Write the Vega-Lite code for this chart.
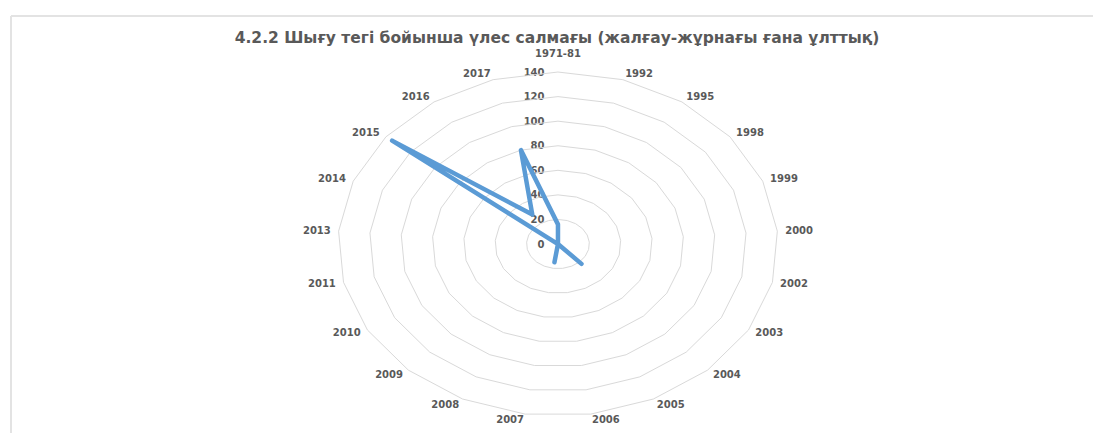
{
  "$schema": "https://vega.github.io/schema/vega-lite/v6.json",
  "width": 1082,
  "height": 417,
  "autosize": "none",
  "padding": {"left": 11, "top": 16, "right": 0, "bottom": 0},
  "background": "white",
  "config": {"view": {"stroke": null}},
  "title": {
    "text": "4.2.2 Шығу тегі бойынша үлес салмағы (жалғау-жұрнағы ғана ұлттық)",
    "font": "DejaVu Sans",
    "fontSize": 15.5,
    "fontWeight": "bold",
    "color": "#595959",
    "anchor": "middle",
    "frame": "group",
    "offset": -31,
    "dx": 5
  },
  "data": {
    "values": [
      {"year": "1971-81", "value": 16},
      {"year": "1992", "value": 0},
      {"year": "1995", "value": 0},
      {"year": "1998", "value": 0},
      {"year": "1999", "value": 0},
      {"year": "2000", "value": 0},
      {"year": "2002", "value": 0},
      {"year": "2003", "value": 0},
      {"year": "2004", "value": 22},
      {"year": "2005", "value": 0},
      {"year": "2006", "value": 0},
      {"year": "2007", "value": 15},
      {"year": "2008", "value": 0},
      {"year": "2009", "value": 0},
      {"year": "2010", "value": 0},
      {"year": "2011", "value": 0},
      {"year": "2013", "value": 0},
      {"year": "2014", "value": 0},
      {"year": "2015", "value": 135},
      {"year": "2016", "value": 29},
      {"year": "2017", "value": 80}
    ]
  },
  "transform": [
    {"window": [{"op": "row_number", "as": "idx"}]},
    {"calculate": "(datum.idx - 1) * 2 * PI / 21", "as": "ang"}
  ],
  "layer": [
    {
      "transform": [
        {"calculate": "[20, 40, 60, 80, 100, 120, 140]", "as": "lv"},
        {"flatten": ["lv"]},
        {"calculate": "datum.lv * sin(datum.ang)", "as": "px"},
        {"calculate": "datum.lv * cos(datum.ang)", "as": "py"}
      ],
      "mark": {"type": "line", "interpolate": "linear-closed", "stroke": "#d9d9d9", "strokeWidth": 1},
      "encoding": {
        "x": {"field": "px", "type": "quantitative", "scale": {"domain": [-348.1, 340.5], "nice": false, "zero": false}, "axis": null},
        "y": {"field": "py", "type": "quantitative", "scale": {"domain": [-153.8, 185.6], "nice": false, "zero": false},
          "axis": {"values": [0, 20, 40, 60, 80, 100, 120, 140], "orient": "left", "offset": -534, "domain": false, "ticks": false, "tickSize": 0, "grid": false, "labelPadding": 1, "labelFont": "DejaVu Sans", "labelFontSize": 10, "labelFontWeight": "bold", "labelColor": "#595959", "title": null}},
        "detail": {"field": "lv", "type": "nominal"},
        "order": {"field": "idx", "type": "quantitative"}
      }
    },
    {
      "transform": [
        {"calculate": "datum.value * sin(datum.ang)", "as": "px"},
        {"calculate": "datum.value * cos(datum.ang)", "as": "py"}
      ],
      "mark": {"type": "line", "interpolate": "linear-closed", "stroke": "#5b9bd5", "strokeWidth": 4.5, "strokeJoin": "round", "strokeCap": "round"},
      "encoding": {
        "x": {"field": "px", "type": "quantitative", "scale": {"domain": [-348.1, 340.5], "nice": false, "zero": false}, "axis": null},
        "y": {"field": "py", "type": "quantitative", "scale": {"domain": [-153.8, 185.6], "nice": false, "zero": false},
          "axis": {"values": [0, 20, 40, 60, 80, 100, 120, 140], "orient": "left", "offset": -534, "domain": false, "ticks": false, "tickSize": 0, "grid": false, "labelPadding": 1, "labelFont": "DejaVu Sans", "labelFontSize": 10, "labelFontWeight": "bold", "labelColor": "#595959", "title": null}},
        "order": {"field": "idx", "type": "quantitative"}
      }
    },
    {
      "transform": [
        {"calculate": "145 * sin(datum.ang)", "as": "px"},
        {"calculate": "145 * cos(datum.ang)", "as": "py"},
        {"filter": "datum.idx == 1"}
      ],
      "mark": {"type": "text", "align": "center", "baseline": "middle", "dy": -12, "font": "DejaVu Sans", "fontSize": 10, "fontWeight": "bold", "color": "#595959"},
      "encoding": {
        "x": {"field": "px", "type": "quantitative", "scale": {"domain": [-348.1, 340.5], "nice": false, "zero": false}, "axis": null},
        "y": {"field": "py", "type": "quantitative", "scale": {"domain": [-153.8, 185.6], "nice": false, "zero": false},
          "axis": {"values": [0, 20, 40, 60, 80, 100, 120, 140], "orient": "left", "offset": -534, "domain": false, "ticks": false, "tickSize": 0, "grid": false, "labelPadding": 1, "labelFont": "DejaVu Sans", "labelFontSize": 10, "labelFontWeight": "bold", "labelColor": "#595959", "title": null}},
        "text": {"field": "year", "type": "nominal"}
      }
    },
    {
      "transform": [
        {"calculate": "145 * sin(datum.ang)", "as": "px"},
        {"calculate": "145 * cos(datum.ang)", "as": "py"},
        {"filter": "datum.idx >= 2 && datum.idx <= 11"}
      ],
      "mark": {"type": "text", "align": "left", "baseline": "middle", "font": "DejaVu Sans", "fontSize": 10, "fontWeight": "bold", "color": "#595959"},
      "encoding": {
        "x": {"field": "px", "type": "quantitative", "scale": {"domain": [-348.1, 340.5], "nice": false, "zero": false}, "axis": null},
        "y": {"field": "py", "type": "quantitative", "scale": {"domain": [-153.8, 185.6], "nice": false, "zero": false},
          "axis": {"values": [0, 20, 40, 60, 80, 100, 120, 140], "orient": "left", "offset": -534, "domain": false, "ticks": false, "tickSize": 0, "grid": false, "labelPadding": 1, "labelFont": "DejaVu Sans", "labelFontSize": 10, "labelFontWeight": "bold", "labelColor": "#595959", "title": null}},
        "text": {"field": "year", "type": "nominal"}
      }
    },
    {
      "transform": [
        {"calculate": "145 * sin(datum.ang)", "as": "px"},
        {"calculate": "145 * cos(datum.ang)", "as": "py"},
        {"filter": "datum.idx >= 12"}
      ],
      "mark": {"type": "text", "align": "right", "baseline": "middle", "font": "DejaVu Sans", "fontSize": 10, "fontWeight": "bold", "color": "#595959"},
      "encoding": {
        "x": {"field": "px", "type": "quantitative", "scale": {"domain": [-348.1, 340.5], "nice": false, "zero": false}, "axis": null},
        "y": {"field": "py", "type": "quantitative", "scale": {"domain": [-153.8, 185.6], "nice": false, "zero": false},
          "axis": {"values": [0, 20, 40, 60, 80, 100, 120, 140], "orient": "left", "offset": -534, "domain": false, "ticks": false, "tickSize": 0, "grid": false, "labelPadding": 1, "labelFont": "DejaVu Sans", "labelFontSize": 10, "labelFontWeight": "bold", "labelColor": "#595959", "title": null}},
        "text": {"field": "year", "type": "nominal"}
      }
    },
    {
      "data": {"values": [{"edge": "top"}]},
      "mark": {"type": "rule", "stroke": "#e3e3e3", "strokeWidth": 2},
      "encoding": {
        "y": {"datum": 185.6, "type": "quantitative", "scale": {"domain": [-153.8, 185.6], "nice": false, "zero": false},
          "axis": {"values": [0, 20, 40, 60, 80, 100, 120, 140], "orient": "left", "offset": -534, "domain": false, "ticks": false, "tickSize": 0, "grid": false, "labelPadding": 1, "labelFont": "DejaVu Sans", "labelFontSize": 10, "labelFontWeight": "bold", "labelColor": "#595959", "title": null}}
      }
    },
    {
      "data": {"values": [{"edge": "left"}]},
      "mark": {"type": "rule", "stroke": "#e3e3e3", "strokeWidth": 2},
      "encoding": {
        "x": {"datum": -348.1, "type": "quantitative", "scale": {"domain": [-348.1, 340.5], "nice": false, "zero": false}, "axis": null}
      }
    }
  ]
}
